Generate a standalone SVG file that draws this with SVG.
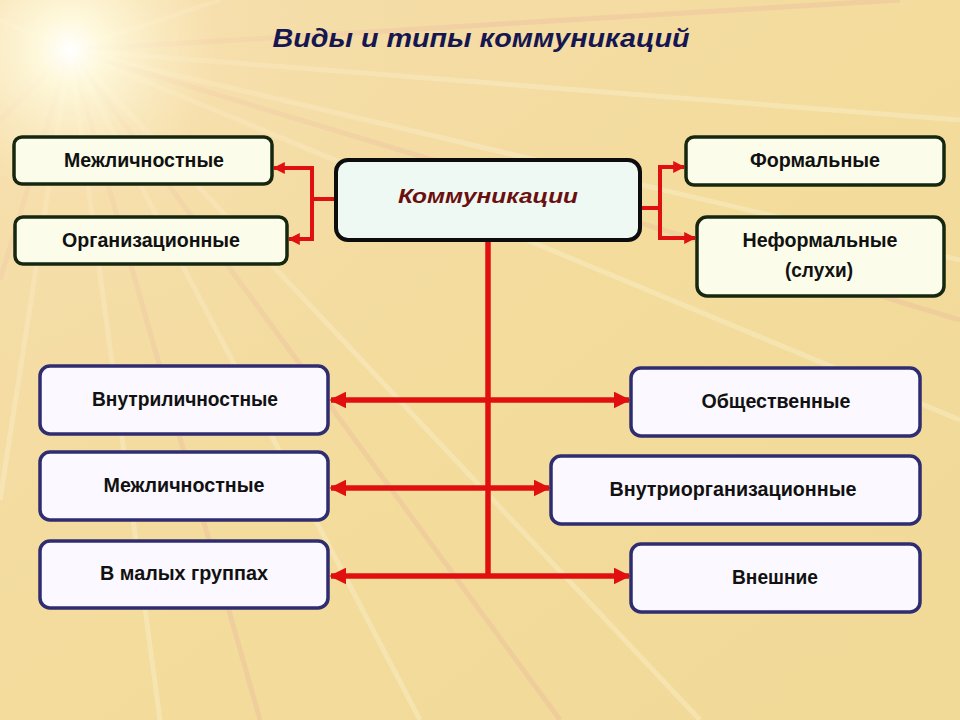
<svg xmlns="http://www.w3.org/2000/svg" width="960" height="720" viewBox="0 0 960 720">
<defs>
<radialGradient id="glow" cx="70" cy="50" r="420" gradientUnits="userSpaceOnUse">
<stop offset="0" stop-color="#ffffff" stop-opacity="1"/>
<stop offset="0.08" stop-color="#fffbe0" stop-opacity="0.9"/>
<stop offset="0.35" stop-color="#f8e2b0" stop-opacity="0.5"/>
<stop offset="1" stop-color="#f2dc9e" stop-opacity="0"/>
</radialGradient>
<linearGradient id="bg" x1="0" y1="0" x2="1" y2="1">
<stop offset="0" stop-color="#f6dcae"/>
<stop offset="0.5" stop-color="#f3dc9c"/>
<stop offset="1" stop-color="#f1d998"/>
</linearGradient>
<marker id="ah" viewBox="0 0 10 10" refX="9" refY="5" markerWidth="12" markerHeight="12" markerUnits="userSpaceOnUse" orient="auto-start-reverse">
<path d="M0,0 L10,5 L0,10 Z" fill="#e01010"/>
</marker>
<marker id="ahb" viewBox="0 0 10 10" refX="9" refY="5" markerWidth="17" markerHeight="17" markerUnits="userSpaceOnUse" orient="auto-start-reverse">
<path d="M0,0 L10,5 L0,10 Z" fill="#e01010"/>
</marker>
</defs>
<style>
.green{fill:#fbfce9;stroke:#17270f;stroke-width:3.5}
.blue{fill:#fbf8ff;stroke:#2f2c70;stroke-width:3.5}
.center{fill:#eef9f3;stroke:#0d0d0d;stroke-width:4}
.lbl{font-family:"Liberation Sans",Arial,sans-serif;font-weight:bold;font-size:20.5px;fill:#111;text-anchor:middle}
.c1{fill:none;stroke:#e01010;stroke-width:4}
.c2{fill:none;stroke:#e01010;stroke-width:5.5}
.ray{stroke:#fff7e0;stroke-opacity:0.3;fill:none}
.rayp{stroke:#e8a8a0;stroke-opacity:0.25;fill:none}
</style>
<g id="background">
<rect width="960" height="720" fill="url(#bg)"/>
<g stroke-width="5">
<path class="ray" d="M70,50 L960,260"/>
<path class="ray" d="M70,50 L960,420"/>
<path class="ray" d="M70,50 L700,720"/>
<path class="ray" d="M70,50 L420,720"/>
<path class="ray" d="M70,50 L160,720"/>
<path class="ray" d="M70,50 L0,500"/>
<path class="ray" d="M70,50 L960,120"/>
<path class="rayp" d="M70,50 L960,320"/>
<path class="rayp" d="M70,50 L560,720"/>
<path class="rayp" d="M70,50 L260,720"/>
<path class="rayp" d="M70,50 L0,280"/>
<path class="rayp" d="M70,50 L900,0"/>
<path class="rayp" d="M70,50 L0,120"/>
<path class="ray" d="M70,50 L220,0"/>
<path class="ray" d="M70,50 L0,20"/>
</g>
<rect width="960" height="720" fill="url(#glow)"/>
</g>
<text x="481" y="47" font-family="Liberation Sans,Arial,sans-serif" font-weight="bold" font-style="italic" font-size="25" fill="#161650" text-anchor="middle" textLength="417" lengthAdjust="spacingAndGlyphs">Виды и типы коммуникаций</text>
<g id="connectors">
<path class="c1" d="M335,199 H312 V168 H274" marker-end="url(#ah)"/>
<path class="c1" d="M312,199 V239 H289" marker-end="url(#ah)"/>
<path class="c1" d="M640,208 H660 V167 H684" marker-end="url(#ah)"/>
<path class="c1" d="M660,208 V238 H695" marker-end="url(#ah)"/>
<path class="c2" d="M488,241 V576"/>
<path class="c2" d="M331,400 H629" marker-start="url(#ahb)" marker-end="url(#ahb)"/>
<path class="c2" d="M331,488 H549" marker-start="url(#ahb)" marker-end="url(#ahb)"/>
<path class="c2" d="M331,576 H629" marker-start="url(#ahb)" marker-end="url(#ahb)"/>
</g>
<g id="n-center">
<rect class="center" x="336" y="160" width="304" height="80" rx="12"/>
<text x="488" y="203" font-family="Liberation Sans,Arial,sans-serif" font-weight="bold" font-style="italic" font-size="20" fill="#6b1010" text-anchor="middle" textLength="180" lengthAdjust="spacingAndGlyphs">Коммуникации</text>
</g>
<g id="n-mezh-top">
<rect class="green" x="14" y="137" width="258" height="47" rx="8"/>
<text class="lbl" x="144" y="167" textLength="160" lengthAdjust="spacingAndGlyphs">Межличностные</text>
</g>
<g id="n-org">
<rect class="green" x="15" y="217" width="272" height="47" rx="8"/>
<text class="lbl" x="151" y="247" textLength="178" lengthAdjust="spacingAndGlyphs">Организационные</text>
</g>
<g id="n-formal">
<rect class="green" x="686" y="137" width="258" height="48" rx="8"/>
<text class="lbl" x="815" y="167" textLength="130" lengthAdjust="spacingAndGlyphs">Формальные</text>
</g>
<g id="n-informal">
<rect class="green" x="697" y="217" width="247" height="79" rx="10"/>
<text class="lbl" x="820" y="247" textLength="155" lengthAdjust="spacingAndGlyphs">Неформальные</text>
<text class="lbl" x="819" y="277" textLength="68" lengthAdjust="spacingAndGlyphs">(слухи)</text>
</g>
<g id="n-vnutrilich">
<rect class="blue" x="40" y="366" width="288" height="68" rx="10"/>
<text class="lbl" x="185" y="406" textLength="186" lengthAdjust="spacingAndGlyphs">Внутриличностные</text>
</g>
<g id="n-mezh">
<rect class="blue" x="40" y="452" width="288" height="68" rx="10"/>
<text class="lbl" x="184" y="492" textLength="161" lengthAdjust="spacingAndGlyphs">Межличностные</text>
</g>
<g id="n-groups">
<rect class="blue" x="40" y="541" width="288" height="67" rx="10"/>
<text class="lbl" x="184" y="580" textLength="168" lengthAdjust="spacingAndGlyphs">В малых группах</text>
</g>
<g id="n-public">
<rect class="blue" x="631" y="368" width="289" height="68" rx="10"/>
<text class="lbl" x="776" y="408" textLength="149" lengthAdjust="spacingAndGlyphs">Общественные</text>
</g>
<g id="n-vnutriorg">
<rect class="blue" x="551" y="456" width="369" height="68" rx="10"/>
<text class="lbl" x="733" y="496" textLength="247" lengthAdjust="spacingAndGlyphs">Внутриорганизационные</text>
</g>
<g id="n-external">
<rect class="blue" x="631" y="544" width="289" height="68" rx="10"/>
<text class="lbl" x="775" y="584" textLength="86" lengthAdjust="spacingAndGlyphs">Внешние</text>
</g>
</svg>
